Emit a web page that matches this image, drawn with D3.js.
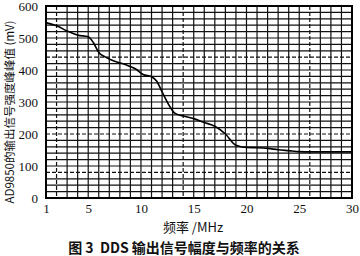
<!DOCTYPE html>
<html><head><meta charset="utf-8">
<script src="https://cdn.jsdelivr.net/npm/d3@7"></script>
<style>body{margin:0;background:#fff}svg{display:block}</style>
</head><body>
<svg id="c" width="360" height="256"></svg>
<script>
const freq = [1,2,3,4,5,5.5,6,6.6,7.5,8.5,9.5,10.2,11,11.5,12,12.7,13.2,14,15,16,17,18,19,20,21,22,23,24,25,26,30];
const amp  = [548,538,522,509,504,485,455,441,427,417,403,386,379,365,332,288,265,256,248,236,224,200,165,158,157,155,151,148,145,144,144];
const xTicks = [1,5,10,15,20,25,30];
const yTicks = [0,100,200,300,400,500,600];
const dashedX = [2,14,26];
const dashedY = [80,200,440];

const svg = d3.select("#c");
const L=46,R=352,T=6,B=198;
const x = d3.scaleLinear().domain([1,30]).range([L,R]);
const y = d3.scaleLinear().domain([0,600]).range([B,T]);
const g = svg.append("g");
const vx = d3.range(2,30);
const hy = d3.range(20,600,20);
g.selectAll(".vx").data(vx).enter().append("line")
  .attr("x1",d=>x(d)).attr("x2",d=>x(d)).attr("y1",T).attr("y2",B)
  .attr("stroke","#111").attr("stroke-width",1.2)
  .attr("stroke-dasharray",d=>dashedX.includes(d)?"4,2":null);
g.selectAll(".hy").data(hy).enter().append("line")
  .attr("y1",d=>y(d)).attr("y2",d=>y(d)).attr("x1",L).attr("x2",R)
  .attr("stroke","#111").attr("stroke-width",1.2)
  .attr("stroke-dasharray",d=>dashedY.includes(d)?"4,2":null);
g.append("rect").attr("x",L).attr("y",T).attr("width",R-L).attr("height",B-T)
  .attr("fill","none").attr("stroke","#000").attr("stroke-width",2);

const line = d3.line().x(d=>x(d[0])).y(d=>y(d[1])).curve(d3.curveMonotoneX);
g.append("path").datum(freq.map((f,i)=>[f,amp[i]])).attr("d",line)
  .attr("fill","none").attr("stroke","#000").attr("stroke-width",1.6);

const ff = "'Liberation Serif','DejaVu Serif',serif";
const ax = svg.append("g").attr("transform",`translate(0,${B})`)
  .call(d3.axisBottom(x).tickValues(xTicks).tickSize(0).tickPadding(6).tickFormat(d3.format("d")));
ax.select(".domain").remove();
ax.selectAll("text").attr("font-family",ff).attr("font-size",13).attr("fill","#111");
const ay = svg.append("g").attr("transform",`translate(${L},0)`)
  .call(d3.axisLeft(y).tickValues(yTicks).tickSize(0).tickPadding(8).tickFormat(d3.format("d")));
ay.select(".domain").remove();
ay.selectAll("text").attr("font-family",ff).attr("font-size",13).attr("fill","#111");

svg.append("text").attr("transform","translate(14,112) rotate(-90)")
  .attr("text-anchor","middle").attr("font-family","'Noto Sans CJK SC',"+ff)
  .attr("font-size",11.5).attr("fill","#111").text("AD9850的输出信号强度峰峰值 (mV)");
svg.append("text").attr("x",193).attr("y",232).attr("text-anchor","middle")
  .attr("font-family","'Noto Sans CJK SC',"+ff).attr("font-size",13).attr("fill","#111")
  .text("频率 /MHz");
svg.append("text").attr("x",184).attr("y",253).attr("text-anchor","middle")
  .attr("font-family","'Noto Sans CJK SC',"+ff).attr("font-size",14).attr("font-weight","bold").attr("fill","#111")
  .attr("xml:space","preserve").text("图 3  DDS 输出信号幅度与频率的关系");
</script>
</body></html>
